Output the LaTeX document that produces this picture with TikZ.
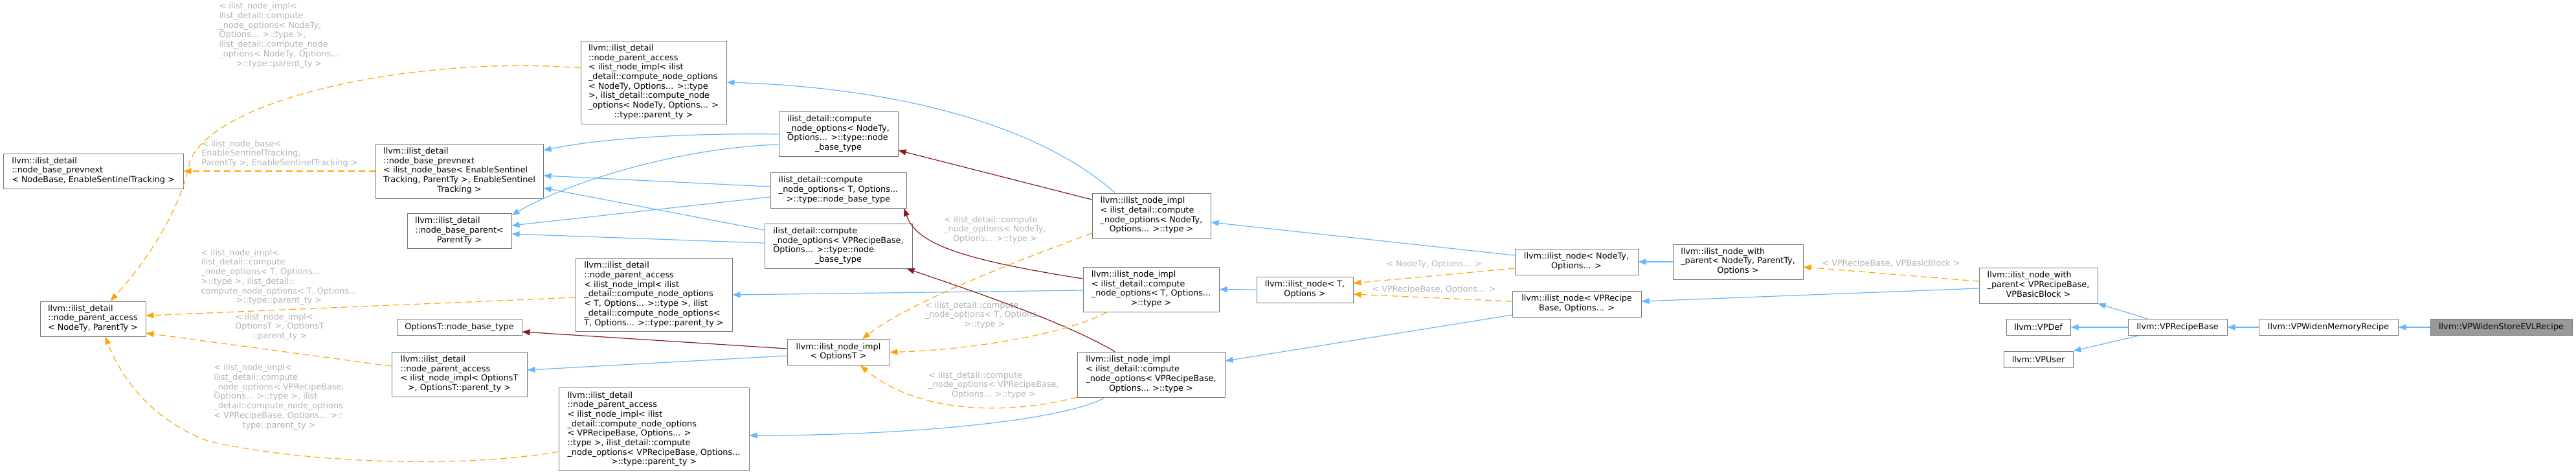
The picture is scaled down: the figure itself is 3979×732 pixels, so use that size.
\documentclass[tikz,border=0pt]{standalone}
\usepackage{fontspec}
\setmainfont{DejaVu Sans}
\usetikzlibrary{positioning,arrows.meta,calc}

\definecolor{boxgray}{HTML}{777777}
\definecolor{lblgray}{HTML}{B4B4B4}
\definecolor{pubblue}{HTML}{63B8FF}
\definecolor{privred}{HTML}{8B1A1A}
\definecolor{tmplorange}{HTML}{FFA500}
\definecolor{curfill}{HTML}{999999}

\newcommand{\dxfont}{\fontsize{12.8pt}{14.7pt}\selectfont}
\newcommand{\dxlines}[2]{\begin{tabular}{@{}l@{}}#1\\\multicolumn{1}{@{}c@{}}{#2}\end{tabular}}

\begin{document}
\begin{tikzpicture}[
  x=1pt,y=-1pt,
  every node/.style={font=\dxfont},
  cbox/.style 2 args={draw=boxgray,line width=1pt,inner sep=2pt,
    minimum width=#1pt,minimum height=#2pt},
  lbl/.style={text=lblgray,inner sep=0pt},
  pub/.style={draw=pubblue,line width=1.2pt,-{Triangle[length=12pt,width=9pt]}},
  priv/.style={draw=privred,line width=1.2pt,-{Triangle[length=12pt,width=9pt]}},
  tmpl/.style={draw=tmplorange,line width=1.2pt,dash pattern=on 10pt off 6pt,
    -{Triangle[length=12pt,width=9pt]}}
 ]
  \useasboundingbox (0,0) rectangle (3979,732);

  \node[cbox={219}{25},fill=curfill] (evl) at (3863.5,505) {llvm::VPWidenStoreEVLRecipe};
  \node[cbox={215}{25},left=49pt of evl] (vwm) {llvm::VPWidenMemoryRecipe};
  \node[cbox={153}{25},left=48pt of vwm] (vrb) {llvm::VPRecipeBase};
  \node[cbox={99}{25}] (vdef) at (3148.5,505) {llvm::VPDef};
  \node[cbox={107}{25}] (vuser) at (3148.5,554.5) {llvm::VPUser};
  \node[cbox={183}{55}] (wV) at (3148.5,440.5)
    {\dxlines{llvm::ilist\_node\_with\\\_parent< VPRecipeBase,}{VPBasicBlock >}};
  \node[cbox={201}{54}] (wN) at (2684.5,404)
    {\dxlines{llvm::ilist\_node\_with\\\_parent< NodeTy, ParentTy,}{Options >}};
  \node[cbox={190}{40}] (nN) at (2435,404)
    {\dxlines{llvm::ilist\_node< NodeTy,}{Options... >}};
  \node[cbox={199}{40}] (nV) at (2435.5,469)
    {\dxlines{llvm::ilist\_node< VPRecipe}{Base, Options... >}};
  \node[cbox={149}{40}] (nT) at (2015.5,447)
    {\dxlines{llvm::ilist\_node< T,}{Options >}};
  \node[cbox={183}{70}] (iN) at (1778.5,333)
    {\dxlines{llvm::ilist\_node\_impl\\< ilist\_detail::compute\\\_node\_options< NodeTy,}{Options... >::type >}};
  \node[cbox={210}{69}] (iT) at (1778,446.5)
    {\dxlines{llvm::ilist\_node\_impl\\< ilist\_detail::compute\\\_node\_options< T, Options...}{>::type >}};
  \node[cbox={228}{70}] (iV) at (1778,578)
    {\dxlines{llvm::ilist\_node\_impl\\< ilist\_detail::compute\\\_node\_options< VPRecipeBase,}{Options... >::type >}};
  \node[cbox={158}{40}] (iO) at (1295,543.5)
    {\dxlines{llvm::ilist\_node\_impl}{< OptionsT >}};
  \node[cbox={184}{69}] (cN) at (1295,206.5)
    {\dxlines{ilist\_detail::compute\\\_node\_options< NodeTy,\\Options... >::type::node}{\_base\_type}};
  \node[cbox={210}{55}] (cT) at (1295,293.5)
    {\dxlines{ilist\_detail::compute\\\_node\_options< T, Options...}{>::type::node\_base\_type}};
  \node[cbox={228}{69}] (cV) at (1295,379.5)
    {\dxlines{ilist\_detail::compute\\\_node\_options< VPRecipeBase,\\Options... >::type::node}{\_base\_type}};
  \node[cbox={225}{128}] (aN) at (1009.5,127)
    {\dxlines{llvm::ilist\_detail\\::node\_parent\_access\\< ilist\_node\_impl< ilist\\\_detail::compute\_node\_options\\< NodeTy, Options... >::type\\ >, ilist\_detail::compute\_node\\\_options< NodeTy, Options... >}{::type::parent\_ty >}};
  \node[cbox={242}{113}] (aT) at (1010,455)
    {\dxlines{llvm::ilist\_detail\\::node\_parent\_access\\< ilist\_node\_impl< ilist\\\_detail::compute\_node\_options\\< T, Options... >::type >, ilist\\\_detail::compute\_node\_options<}{T, Options... >::type::parent\_ty >}};
  \node[cbox={294}{128}] (aV) at (1010,662.5)
    {\dxlines{llvm::ilist\_detail\\::node\_parent\_access\\< ilist\_node\_impl< ilist\\\_detail::compute\_node\_options\\< VPRecipeBase, Options... >\\::type >, ilist\_detail::compute\\\_node\_options< VPRecipeBase, Options...}{>::type::parent\_ty >}};
  \node[cbox={259}{84}] (pib) at (709.5,264)
    {\dxlines{llvm::ilist\_detail\\::node\_base\_prevnext\\< ilist\_node\_base< EnableSentinel\\Tracking, ParentTy >, EnableSentinel}{Tracking >}};
  \node[cbox={161}{54}] (nbp) at (709.5,356.5)
    {\dxlines{llvm::ilist\_detail\\::node\_base\_parent<}{ParentTy >}};
  \node[cbox={193}{25}] (obt) at (709.5,505) {OptionsT::node\_base\_type};
  \node[cbox={209}{69}] (aO) at (709.5,577.5)
    {\dxlines{llvm::ilist\_detail\\::node\_parent\_access\\< ilist\_node\_impl< OptionsT}{>, OptionsT::parent\_ty >}};
  \node[cbox={278}{54}] (pnb) at (144,264)
    {\dxlines{llvm::ilist\_detail\\::node\_base\_prevnext}{< NodeBase, EnableSentinelTracking >}};
  \node[cbox={163}{54}] (apt) at (143.5,492)
    {\dxlines{llvm::ilist\_detail\\::node\_parent\_access}{< NodeTy, ParentTy >}};

  \node[lbl] (l1) at (431,55)
    {\dxlines{< ilist\_node\_impl<\\ilist\_detail::compute\\\_node\_options< NodeTy,\\Options... >::type >,\\ilist\_detail::compute\_node\\\_options< NodeTy, Options...}{>::type::parent\_ty >}};
  \node[lbl] (l2) at (432,238)
    {\dxlines{< ilist\_node\_base<\\EnableSentinelTracking,}{ParentTy >, EnableSentinelTracking >}};
  \node[lbl] (l3) at (431,428)
    {\dxlines{< ilist\_node\_impl<\\ilist\_detail::compute\\\_node\_options< T, Options...\\>::type >, ilist\_detail::\\compute\_node\_options< T, Options...}{>::type::parent\_ty >}};
  \node[lbl] (l4) at (432,505)
    {\dxlines{< ilist\_node\_impl<\\OptionsT >, OptionsT}{::parent\_ty >}};
  \node[lbl] (l5) at (431,613)
    {\dxlines{< ilist\_node\_impl<\\ilist\_detail::compute\\\_node\_options< VPRecipeBase,\\Options... >::type >, ilist\\\_detail::compute\_node\_options\\< VPRecipeBase, Options... >::}{type::parent\_ty >}};
  \node[lbl] (l6) at (1537,355)
    {\dxlines{< ilist\_detail::compute\\\_node\_options< NodeTy,}{Options... >::type >}};
  \node[lbl] (l7) at (1521,487)
    {\dxlines{< ilist\_detail::compute\\\_node\_options< T, Options...}{>::type >}};
  \node[lbl] (l8) at (1535,595)
    {\dxlines{< ilist\_detail::compute\\\_node\_options< VPRecipeBase,}{Options... >::type >}};
  \node[lbl] (l9) at (2215,408) {< NodeTy, Options... >};
  \node[lbl] (l10) at (2215,447) {< VPRecipeBase, Options... >};
  \node[lbl] (l11) at (2921,407) {< VPRecipeBase, VPBasicBlock >};

  \draw[pub] (evl) -- (vwm);
  \draw[pub] (vwm) -- (vrb);
  \draw[pub] (vrb) -- (vdef);
  \draw[pub] ($(vrb.north west)+(31,0)$) -- (wV.south east);
  \draw[pub] ($(vrb.south west)+(17,0)$) -- (vuser.north east);
  \draw[pub] ($(wV.west)+(0,4.5)$) -- ($(nV.east)+(0,-4)$);
  \draw[pub] (wN.west) -- (nN.east);
  \draw[pub] ($(nN.west)+(0,-10)$) -- ($(iN.east)+(0,10)$);
  \draw[pub] (nT.west) -- (iT.east);
  \draw[pub] ($(nV.west)+(0,17)$) -- ($(iV.east)+(0,-21)$);
  \draw[pub] ($(iN.north)+(-56,0)$) .. controls (1600,190) and (1380,135) .. (aN.east);
  \draw[pub] ($(iT.west)+(0,1.5)$) -- (aT.east);
  \draw[pub] ($(iV.south)+(-71,0)$) .. controls (1640,650) and (1400,672) .. ($(aV.east)+(0,9.5)$);
  \draw[pub] ($(iO.west)+(0,5.5)$) -- ($(aO.east)+(0,-6.5)$);
  \draw[pub] ($(cN.west)+(0,0.5)$) .. controls (1050,205) and (920,215) .. ($(pib.east)+(0,-32)$);
  \draw[pub] ($(cN.west)+(0,16.5)$) .. controls (1050,228) and (880,280) .. ($(nbp.east)+(0,-24.5)$);
  \draw[pub] ($(cT.west)+(0,-5.5)$) -- ($(pib.east)+(0,7)$);
  \draw[pub] ($(cT.west)+(0,10.5)$) -- ($(nbp.east)+(0,-8.5)$);
  \draw[pub] ($(cV.west)+(0,-24.5)$) -- ($(pib.east)+(0,26)$);
  \draw[pub] ($(cV.west)+(0,-4.5)$) -- ($(nbp.east)+(0,4.5)$);

  \draw[priv] ($(iN.west)+(0,-25)$) -- ($(cN.east)+(0,25.5)$);
  \draw[priv] ($(iT.west)+(0,-16.5)$) .. controls (1480,400) and (1415,375) .. ($(cT.south east)+(-4,0)$);
  \draw[priv] ($(iV.north)+(-56,0)$) .. controls (1650,500) and (1520,455) .. ($(cV.south east)+(-9,0)$);
  \draw[priv] ($(iO.west)+(0,-5.5)$) -- ($(obt.east)+(0,7)$);

  \draw[tmpl] ($(aN.west)+(0,-22)$) .. controls (650,85) and (330,150) .. (293,250)
    .. controls (280,320) and (230,400) .. ($(apt.north)+(27,0)$);
  \draw[tmpl] (pib.west) -- (pnb.east);
  \draw[tmpl] ($(aT.west)+(0,4)$) -- ($(apt.east)+(0,-5)$);
  \draw[tmpl] ($(aO.west)+(0,-12.5)$) -- ($(apt.east)+(0,22)$);
  \draw[tmpl] ($(aV.west)+(0,34.5)$) .. controls (700,725) and (450,712) .. (320,680)
    .. controls (240,650) and (190,590) .. ($(apt.south)+(19,0)$);
  \draw[tmpl] ($(iN.west)+(0,27)$) .. controls (1550,410) and (1400,470) .. ($(iO.north)+(37,0)$);
  \draw[tmpl] ($(iT.south)+(-68,0)$) .. controls (1650,515) and (1500,540) .. (iO.east);
  \draw[tmpl] ($(iV.west)+(0,35)$) .. controls (1560,640) and (1420,640) .. ($(iO.south)+(34,0)$);
  \draw[tmpl] ($(nN.west)+(0,10)$) -- ($(nT.east)+(0,-10)$);
  \draw[tmpl] ($(nV.west)+(0,-4)$) -- ($(nT.east)+(0,7)$);
  \draw[tmpl] ($(wV.west)+(0,-6.5)$) -- ($(wN.east)+(0,8)$);
 \end{tikzpicture}
\end{document}
